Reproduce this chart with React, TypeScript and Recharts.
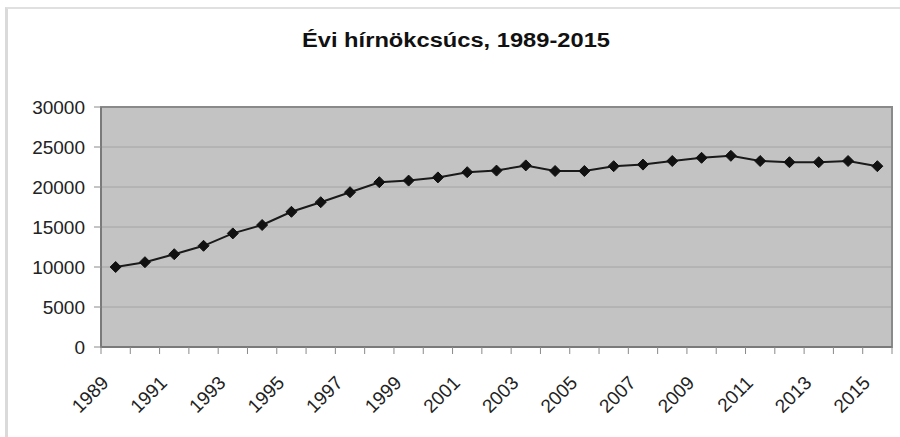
import React from "react";
import { LineChart, Line, XAxis, YAxis, CartesianGrid, ReferenceArea } from "recharts";

const years = [1989, 1990, 1991, 1992, 1993, 1994, 1995, 1996, 1997, 1998, 1999, 2000, 2001, 2002, 2003, 2004, 2005, 2006, 2007, 2008, 2009, 2010, 2011, 2012, 2013, 2014, 2015];
const peaks = [10000, 10600, 11600, 12650, 14200, 15250, 16900, 18100, 19350, 20600, 20800, 21200, 21850, 22050, 22700, 22000, 22000, 22600, 22800, 23250, 23650, 23900, 23250, 23100, 23100, 23250, 22600];
const yTicks = [0, 5000, 10000, 15000, 20000, 25000, 30000];
const labelYears = [1989, 1991, 1993, 1995, 1997, 1999, 2001, 2003, 2005, 2007, 2009, 2011, 2013, 2015];
const title = "Évi hírnökcsúcs, 1989-2015";

const data = years.map((y, i) => ({ year: y, value: peaks[i] }));
const boundaries = [...years.map((y) => y - 0.5), years[years.length - 1] + 0.5];
const xDomain = [years[0] - 0.5, years[years.length - 1] + 0.5];

const FONT = "'Liberation Sans', Arial, sans-serif";

const Diamond = (props: any) => {
  const { cx, cy } = props;
  if (cx == null || cy == null) return null;
  const r = 5.5;
  return (
    <polygon
      points={`${cx},${cy - r} ${cx + r},${cy} ${cx},${cy + r} ${cx - r},${cy}`}
      fill="#111"
      stroke="#111"
      strokeWidth={1}
    />
  );
};

const NoLabel = () => <g />;

const XLabel = (props: any) => {
  const { x, y, payload } = props;
  const ex = x - 6;
  const ey = y + 31;
  return (
    <text
      x={ex}
      y={ey}
      textAnchor="end"
      transform={`rotate(-45, ${ex}, ${ey})`}
      fontFamily={FONT}
      fontSize={19}
      fill="#222"
    >
      {payload.value}
    </text>
  );
};

export default function App() {
  return (
    <div style={{ position: "absolute", left: 0, top: 0, width: 900, height: 437, background: "#fff", overflow: "hidden" }}>
      <div
        style={{
          position: "absolute",
          left: 5,
          top: 7,
          width: 905,
          height: 440,
          borderLeft: "3px solid #dadada",
          borderTop: "2px solid #e0e0e0",
          boxSizing: "border-box",
        }}
      />
      <svg style={{ position: "absolute", left: 0, top: 0 }} width={900} height={60}>
        <text
          x={456}
          y={46.5}
          textAnchor="middle"
          fontFamily={FONT}
          fontWeight="bold"
          fontSize={20}
          textLength={308}
          lengthAdjust="spacingAndGlyphs"
          fill="#111"
        >
          {title}
        </text>
      </svg>
      <div style={{ position: "absolute", left: 0, top: 0 }}>
        <LineChart width={900} height={437} data={data} margin={{ top: 107, right: 8, bottom: 24, left: 0 }}>
          <CartesianGrid xAxisId={0} horizontal vertical={false} fill="#c3c3c3" stroke="#a4a4a4" strokeWidth={1} />
          <XAxis
            xAxisId={0}
            type="number"
            dataKey="year"
            domain={xDomain}
            allowDataOverflow
            ticks={boundaries}
            interval={0}
            tick={<NoLabel />}
            tickSize={7}
            height={6}
            axisLine={{ stroke: "#7a7a7a", strokeWidth: 2 }}
            tickLine={{ stroke: "#8a8a8a", strokeWidth: 1 }}
          />
          <XAxis
            xAxisId={1}
            type="number"
            dataKey="year"
            domain={xDomain}
            allowDataOverflow
            ticks={labelYears}
            interval={0}
            tickSize={0}
            tickMargin={0}
            height={60}
            axisLine={false}
            tickLine={false}
            tick={<XLabel />}
          />
          <YAxis
            type="number"
            domain={[0, 30000]}
            ticks={yTicks}
            interval={0}
            width={101}
            tickSize={7}
            tickMargin={9}
            axisLine={{ stroke: "#7a7a7a", strokeWidth: 2 }}
            tickLine={{ stroke: "#8a8a8a", strokeWidth: 1 }}
            tick={{ fontFamily: FONT, fontSize: 19, fill: "#222" }}
          />
          <ReferenceArea
            xAxisId={0}
            x1={xDomain[0]}
            x2={xDomain[1]}
            y1={0}
            y2={30000}
            fill="none"
            fillOpacity={0}
            stroke="#8a8a8a"
            strokeWidth={2}
            ifOverflow="visible"
          />
          <Line
            xAxisId={0}
            type="linear"
            dataKey="value"
            stroke="#1a1a1a"
            strokeWidth={2}
            dot={<Diamond />}
            activeDot={false}
            isAnimationActive={false}
          />
        </LineChart>
      </div>
    </div>
  );
}
